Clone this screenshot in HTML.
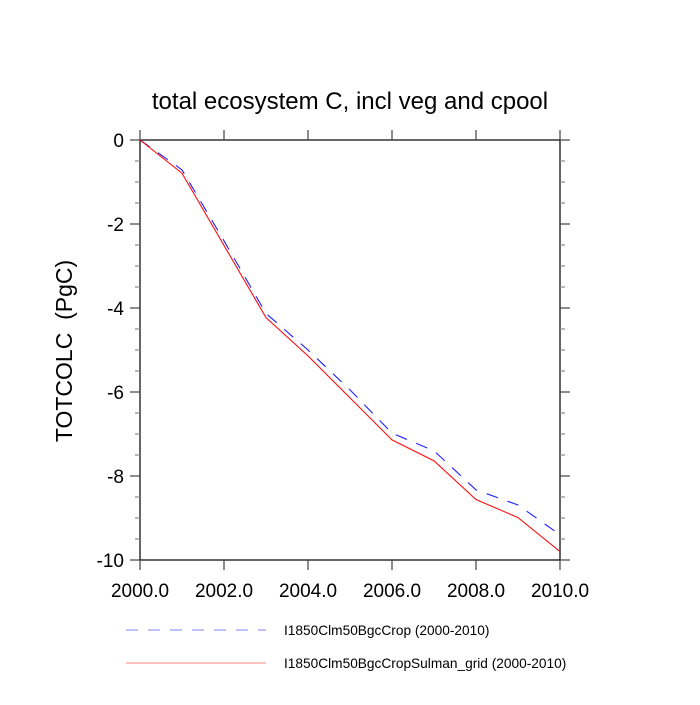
<!DOCTYPE html>
<html><head><meta charset="utf-8"><style>
body{margin:0;background:#fff}
svg text{font-family:"Liberation Sans",Helvetica,sans-serif;fill:#000}
</style></head><body>
<svg id="chart" width="700" height="700" xmlns="http://www.w3.org/2000/svg">
<text x="350" y="109" font-size="24" text-anchor="middle">total ecosystem C, incl veg and cpool</text>
<text x="0" y="0" font-size="23" text-anchor="middle" xml:space="preserve" style="white-space:pre" transform="translate(72,351) rotate(-90)">TOTCOLC  (PgC)</text>
<g id="axes"></g>
<g id="series"></g>
<g>
<line x1="126" y1="630" x2="266" y2="630" stroke="#8080ff" stroke-width="1" stroke-dasharray="12,10"/>
<text x="284" y="635" font-size="13.7">I1850Clm50BgcCrop (2000-2010)</text>
<line x1="126" y1="663" x2="266" y2="663" stroke="#ff8080" stroke-width="1"/>
<text x="284" y="668" font-size="13.7">I1850Clm50BgcCropSulman_grid (2000-2010)</text>
</g>
</svg>
<script>
const years = [2000,2001,2002,2003,2004,2005,2006,2007,2008,2009,2010];
const cropValues = [0,-0.71,-2.4,-4.13,-5.0,-5.95,-6.98,-7.4,-8.33,-8.69,-9.40];
const sulmanValues = [0,-0.79,-2.51,-4.23,-5.14,-6.14,-7.14,-7.64,-8.56,-8.99,-9.80];
const xTicks = [2000,2002,2004,2006,2008,2010];
const xTickLabels = ["2000.0","2002.0","2004.0","2006.0","2008.0","2010.0"];
const yTicks = [0,-2,-4,-6,-8,-10];
const yTickLabels = ["0","-2","-4","-6","-8","-10"];
const yMin=-10,yMax=0,xMin=2000,xMax=2010;
const L=140,R=560,T=140,B=560;
const sx=v=>L+(v-xMin)/(xMax-xMin)*(R-L);
const sy=v=>T+(yMax-v)/(yMax-yMin)*(B-T);
const NS="http://www.w3.org/2000/svg";
const axes=document.getElementById('axes'), series=document.getElementById('series');
function mk(tag,attrs,parent){const e=document.createElementNS(NS,tag);for(const k in attrs)e.setAttribute(k,attrs[k]);parent.appendChild(e);return e;}
const frame=mk('rect',{x:L,y:T,width:R-L,height:B-T,fill:'none',stroke:'#000','stroke-width':1.2},axes);


xTicks.forEach((v,i)=>{
  const x=sx(v);
  const t1=mk('line',{x1:x,y1:B,x2:x,y2:B+10,stroke:'#444','stroke-width':1.2},axes);
  
  
  const t2=mk('line',{x1:x,y1:T,x2:x,y2:T-10,stroke:'#444','stroke-width':1.2},axes);
  
  
  const lb=mk('text',{x:x,y:B+37,'font-size':19,'text-anchor':'middle'},axes);
  lb.textContent=xTickLabels[i];
  
  
});
for(let v=0;v>=-10;v-=0.5){
  const y=sy(v); const major=Math.abs(v%2)<1e-9; const len=major?10:5;
  const a=mk('line',{x1:L,y1:y,x2:L-len,y2:y,stroke:major?'#444':'#888','stroke-width':1.2},axes);
  
  
  const b=mk('line',{x1:R,y1:y,x2:R+len,y2:y,stroke:major?'#444':'#888','stroke-width':1.2},axes);
  
  
}
yTicks.forEach((v,i)=>{
  const lb=mk('text',{x:L-16,y:sy(v)+7,'font-size':19,'text-anchor':'end'},axes);
  lb.textContent=yTickLabels[i];
  
  
});
const pts=vals=>vals.map((v,i)=>sx(years[i])+','+sy(v)).join(' ');
const l1=mk('polyline',{points:pts(cropValues),fill:'none',stroke:'#2020ff','stroke-width':1.1,'stroke-dasharray':'12,10'},series);


const l2=mk('polyline',{points:pts(sulmanValues),fill:'none',stroke:'#ff1010','stroke-width':1.1},series);


</script>
</body></html>
